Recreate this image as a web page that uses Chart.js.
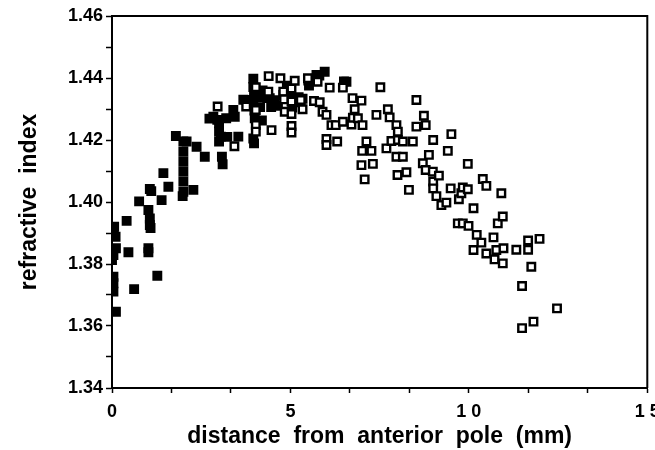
<!DOCTYPE html>
<html>
<head>
<meta charset="UTF-8">
<title>refractive index</title>
<script src="https://cdn.jsdelivr.net/npm/chart.js"></script>
<style>
  body { margin: 0; background: #fff; }
</style>
</head>
<body>
<canvas id="grafico" width="655" height="450"></canvas>
<script>
// pontos cheios (perto do polo anterior)
var cheioX = [0, 0.04, 0.1, 0.06, 0.04, 0.11, 0.04, 0, 0.04, 0.04, 0.04, 0.11, 0.41, 0.46, 0.62, 0.76,
  1.02, 1.06, 1.06, 1.08, 1.02, 1.02, 1.06, 1.1, 1.27, 1.39, 1.44, 1.58, 1.79, 2.0, 2.09, 2.0, 2.0,
  2.0, 2.0, 2.0, 1.98, 2.28, 2.37, 2.6, 2.73, 2.84, 2.95, 3.0, 3.0, 3.05, 3.0, 3.08, 3.1, 3.2, 3.4,
  3.44, 3.54, 3.23, 3.68, 3.77, 3.96, 3.96, 3.98, 3.96, 3.99, 4.0, 3.96, 3.98, 4.1, 4.15, 4.2, 4.22,
  4.35, 4.46, 4.55, 4.42, 4.65, 4.8, 4.9, 4.99, 5.13, 5.23, 5.34, 5.05, 5.5, 5.52, 5.7, 5.73, 5.81,
  5.96, 6.5, 6.57];
var cheioY = [1.3908, 1.389, 1.3888, 1.392, 1.3899, 1.3851, 1.3829, 1.3813, 1.3759, 1.3738, 1.3711, 1.3646,
  1.3939, 1.3838, 1.3719, 1.4002, 1.3974, 1.3947, 1.3926, 1.3916, 1.3851, 1.3838, 1.4042, 1.4035, 1.3762,
  1.4006, 1.4093, 1.4049, 1.4213, 1.4195, 1.4195, 1.4162, 1.413, 1.4098, 1.4066, 1.4033, 1.4019, 1.4039,
  1.4178, 1.4146, 1.4269, 1.4275, 1.4265, 1.4254, 1.4227, 1.4211, 1.4195, 1.4146, 1.4122, 1.427, 1.4297,
  1.4275, 1.4211, 1.421, 1.433, 1.4329, 1.4398, 1.4371, 1.4344, 1.4322, 1.4295, 1.427, 1.4205, 1.4189,
  1.4338, 1.4306, 1.4263, 1.436, 1.4335, 1.4306, 1.4328, 1.4335, 1.431, 1.4345, 1.4375, 1.435, 1.4322,
  1.4338, 1.4333, 1.4305, 1.4392, 1.4376, 1.4398, 1.441, 1.4408, 1.442, 1.4389, 1.4388];

// pontos vazios (resto da lente)
var vazioX = [2.96, 3.43, 3.76, 4.03, 4.03, 4.03, 4.03, 4.39, 4.38, 4.47, 4.72, 4.8, 4.82, 4.84, 5.03, 5.03,
  5.03, 5.03, 5.03, 5.12, 5.29, 5.34, 5.49, 5.66, 5.76, 5.82, 5.9, 6.01, 6.1, 6.15, 6.27, 6.01, 6.01, 6.31,
  6.47, 6.47, 6.71, 6.74, 6.99, 6.8, 6.75, 6.89, 7.02, 7.13, 7.01, 7.27, 6.99, 7.31, 7.08, 7.41, 7.52, 7.69,
  7.73, 7.78, 7.83, 7.97, 8.01, 8.01, 8.15, 7.97, 8.15, 8.0, 8.25, 8.32, 8.43, 8.53, 8.53, 8.74, 8.79, 8.71,
  8.79, 8.88, 8.99, 9.0, 9.0, 9.0, 9.09, 9.16, 9.23, 9.37, 9.41, 9.49, 9.51, 9.69, 9.72, 9.79, 9.83, 9.83,
  9.97, 9.97, 9.99, 10.13, 10.13, 10.22, 10.35, 10.39, 10.49, 10.49, 10.69, 10.72, 10.77, 10.81, 10.91,
  10.95, 10.95, 10.97, 11.33, 11.49, 11.49, 11.66, 11.66, 11.75, 11.81, 11.98, 12.47];
var vazioY = [1.4308, 1.418, 1.4308, 1.437, 1.4297, 1.4248, 1.4227, 1.4406, 1.4356, 1.4232, 1.4399, 1.4356,
  1.4331, 1.4291, 1.4366, 1.4324, 1.4284, 1.4245, 1.4224, 1.4391, 1.4329, 1.4299, 1.4399, 1.4326, 1.4388,
  1.4322, 1.4291, 1.4281, 1.4369, 1.4248, 1.4248, 1.4203, 1.4184, 1.4195, 1.4369, 1.4259, 1.425, 1.4335,
  1.4327, 1.4299, 1.4272, 1.427, 1.4248, 1.4195, 1.4165, 1.4165, 1.4119, 1.4123, 1.4073, 1.4281, 1.437,
  1.4173, 1.4299, 1.4273, 1.4197, 1.4248, 1.4227, 1.42, 1.4195, 1.4146, 1.4146, 1.4087, 1.4096, 1.4039,
  1.4195, 1.4329, 1.4243, 1.4278, 1.4248, 1.4125, 1.4103, 1.4152, 1.4098, 1.42, 1.4066, 1.4044, 1.4019,
  1.4085, 1.399, 1.3998, 1.4165, 1.4044, 1.4219, 1.3931, 1.4009, 1.4028, 1.4047, 1.3931, 1.4041, 1.4123,
  1.3923, 1.398, 1.3845, 1.3894, 1.3869, 1.4074, 1.4052, 1.3834, 1.3886, 1.3815, 1.3845, 1.3931, 1.4028,
  1.3953, 1.3802, 1.3851, 1.3846, 1.3729, 1.3593, 1.3876, 1.3846, 1.3791, 1.3614, 1.3881, 1.3657];

// marcas dos eixos
var xTicks = [0, 1.667, 3.333, 5, 6.667, 8.333, 10, 11.667, 13.333, 15];
var xTickLabels = ['0', '', '', '5', '', '', '1 0', '', '', '1 5'];
var yTicks = [1.34, 1.35, 1.36, 1.37, 1.38, 1.39, 1.40, 1.41, 1.42, 1.43, 1.44, 1.45, 1.46];
var yTickLabels = ['1.34', '', '1.36', '', '1.38', '', '1.40', '', '1.42', '', '1.44', '', '1.46'];

function pontos(xs, ys) {
  var lista = [];
  for (var i = 0; i < xs.length; i++) {
    lista.push({ x: xs[i], y: ys[i] });
  }
  return lista;
}

// moldura de cima e da direita
var moldura = {
  id: 'moldura',
  beforeDatasetsDraw: function (chart) {
    var a = chart.chartArea, ctx = chart.ctx;
    ctx.save();
    ctx.strokeStyle = '#000';
    ctx.lineWidth = 2;
    ctx.beginPath();
    ctx.moveTo(a.left, a.top);
    ctx.lineTo(a.right, a.top);
    ctx.lineTo(a.right, a.bottom);
    ctx.stroke();
    ctx.restore();
  }
};

var fonte = 'Liberation Sans, Arial';

new Chart(document.getElementById('grafico'), {
  type: 'scatter',
  data: {
    datasets: [
      {
        data: pontos(vazioX, vazioY),
        pointStyle: 'rect',
        pointRadius: 5.3,
        borderWidth: 2.4,
        borderColor: '#000',
        backgroundColor: '#fff'
      },
      {
        data: pontos(cheioX, cheioY),
        pointStyle: 'rect',
        pointRadius: 5.3,
        borderWidth: 2.4,
        borderColor: '#000',
        backgroundColor: '#000'
      }
    ]
  },
  options: {
    responsive: false,
    devicePixelRatio: 1,
    animation: false,
    layout: { padding: { top: 16, right: 7, left: 0, bottom: 0 } },
    plugins: {
      legend: { display: false },
      tooltip: { enabled: false }
    },
    scales: {
      x: {
        type: 'linear',
        min: 0,
        max: 15,
        afterBuildTicks: function (s) {
          s.ticks = xTicks.map(function (v) { return { value: v }; });
        },
        afterFit: function (s) { s.height = 62; s.paddingLeft = 0; s.paddingRight = 0; },
        border: { display: true, color: '#000', width: 2 },
        grid: { display: true, drawOnChartArea: false, drawTicks: true, tickLength: 5, tickColor: '#000', tickWidth: 1.5 },
        ticks: {
          autoSkip: false,
          maxRotation: 0,
          padding: 8,
          color: '#000',
          font: { family: fonte, size: 18, weight: 'bold' },
          callback: function (v, i) { return xTickLabels[i]; }
        },
        title: {
          display: true,
          text: 'distance  from  anterior  pole  (mm)',
          color: '#000',
          font: { family: fonte, size: 23, weight: 'bold' },
          padding: { top: 3, bottom: 0 }
        }
      },
      y: {
        type: 'linear',
        min: 1.34,
        max: 1.46,
        afterBuildTicks: function (s) {
          s.ticks = yTicks.map(function (v) { return { value: v }; });
        },
        afterFit: function (s) { s.width = 112; s.paddingTop = 0; s.paddingBottom = 0; },
        border: { display: true, color: '#000', width: 2 },
        grid: { display: true, drawOnChartArea: false, drawTicks: true, tickLength: 6, tickColor: '#000', tickWidth: 1.5 },
        ticks: {
          autoSkip: false,
          padding: 3,
          color: '#000',
          font: { family: fonte, size: 18, weight: 'bold' },
          callback: function (v, i) { return yTickLabels[i]; }
        },
        title: {
          display: true,
          text: 'refractive  index',
          color: '#000',
          font: { family: fonte, size: 23, weight: 'bold' },
          padding: { top: 16, bottom: 0 }
        }
      }
    }
  },
  plugins: [moldura]
});
</script>
</body>
</html>
